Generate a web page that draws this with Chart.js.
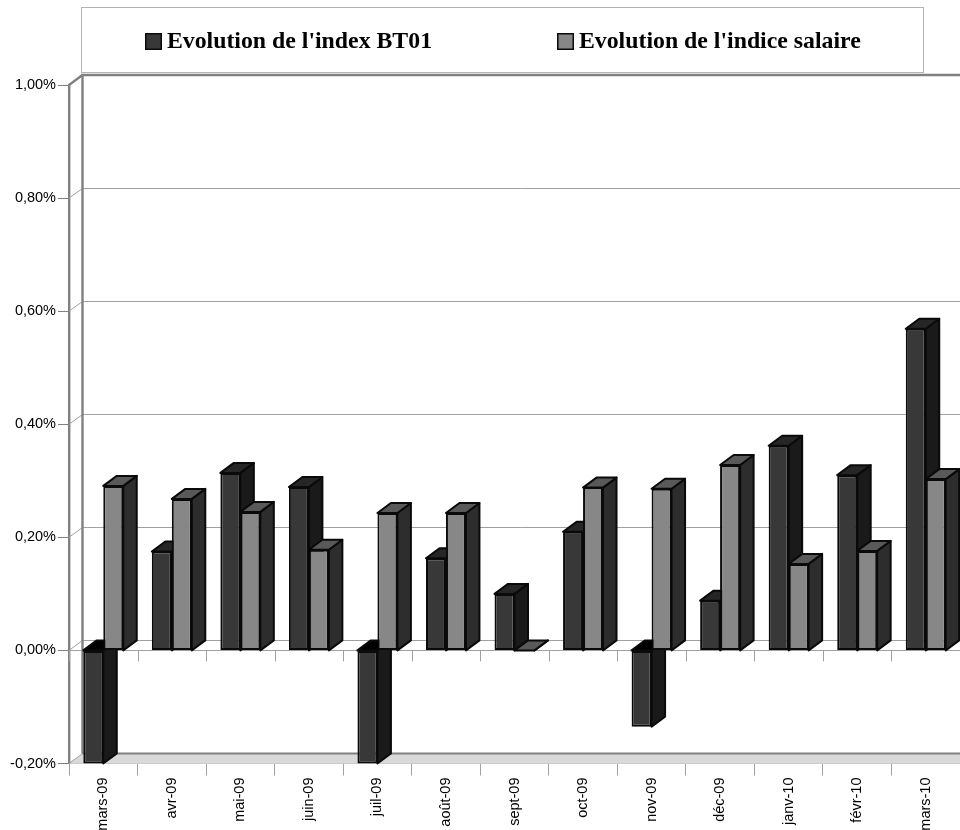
<!DOCTYPE html>
<html><head><meta charset="utf-8">
<style>html,body{margin:0;padding:0;background:#fff;overflow:hidden}#w{width:960px;height:830px;position:relative}</style>
<script src="https://cdn.jsdelivr.net/npm/chart.js@4"></script></head>
<body><div id="w"><canvas id="c" width="960" height="830"></canvas></div>
<script>
const categories = ["mars-09","avr-09","mai-09","juin-09","juil-09","août-09","sept-09","oct-09","nov-09","déc-09","janv-10","févr-10","mars-10"];
const indexBT01 = [-0.2,0.175,0.314,0.289,-0.2,0.163,0.1,0.21,-0.135,0.088,0.362,0.31,0.569];
const indiceSalaire = [0.291,0.268,0.245,0.178,0.243,0.243,0,0.288,0.286,0.328,0.153,0.176,0.303];
const seriesNames = ["Evolution de l'index BT01","Evolution de l'indice salaire"];
const yTicks = [-0.2,0,0.2,0.4,0.6,0.8,1];
const DX = 13.5, DY = -10;
const palette = [
 {front:'#383838',side:'#1a1a1a',top:'#262626',topNeg:'#000000'},
 {front:'#878787',side:'#2d2d2d',top:'#595959',topNeg:'#595959'}];

function swatch(color){
  const c=document.createElement('canvas');c.width=17;c.height=17;
  const x=c.getContext('2d');x.fillStyle='#0a0a0a';x.fillRect(0,0,17,17);x.fillStyle=color;x.fillRect(1.5,1.5,14,14);return c;
}
const poly=(ctx,pts,fill,stroke)=>{ctx.beginPath();pts.forEach((p,i)=>i?ctx.lineTo(p[0],p[1]):ctx.moveTo(p[0],p[1]));ctx.closePath();ctx.fillStyle=fill;ctx.fill();ctx.strokeStyle=stroke;ctx.lineWidth=2;ctx.lineJoin='round';ctx.stroke();};
const snap=v=>Math.floor(v)+.5;

const frame3d={
  id:'frame3d',
  afterLayout(chart){
    const l=chart.legend,p=l.options.labels.padding;
    l.left=152-p;l.right=3000;l.top=44-14.4-p;
  },
  beforeDraw(chart){
    const ctx=chart.ctx;ctx.save();
    ctx.strokeStyle='#b3b3b3';ctx.lineWidth=1;ctx.strokeRect(81.5,7.5,842,65);
    ctx.restore();
  },
  beforeDatasetsDraw(chart){
    const ctx=chart.ctx,{left,right,top,bottom}=chart.chartArea,y=chart.scales.y;
    ctx.save();
    ctx.fillStyle='#d9d9d9';ctx.beginPath();ctx.moveTo(left,bottom);ctx.lineTo(left+DX,bottom+DY);ctx.lineTo(right,bottom+DY);ctx.lineTo(right,bottom);ctx.closePath();ctx.fill();
    ctx.lineWidth=1;ctx.strokeStyle='#a0a0a0';
    yTicks.forEach(v=>{const py=y.getPixelForValue(v);
      ctx.beginPath();ctx.moveTo(left,py);ctx.lineTo(left+DX,snap(py+DY));ctx.lineTo(right,snap(py+DY));ctx.stroke();});
    ctx.strokeStyle='#808080';ctx.lineWidth=2.4;
    ctx.beginPath();ctx.moveTo(left+DX,bottom+DY);ctx.lineTo(left+DX,top+DY);ctx.lineTo(right,top+DY);ctx.stroke();
    ctx.beginPath();ctx.moveTo(left,top);ctx.lineTo(left+DX,top+DY);ctx.stroke();
    ctx.lineWidth=2;ctx.beginPath();ctx.moveTo(left+DX,bottom+DY);ctx.lineTo(right,bottom+DY);ctx.stroke();
    const zero=y.getPixelForValue(0);
    ctx.lineWidth=1;ctx.strokeStyle='#a0a0a0';
    ctx.beginPath();ctx.moveTo(left,snap(zero));ctx.lineTo(right,snap(zero));ctx.stroke();
    for(let i=0;i<=categories.length;i++){
      const px=Math.round(left+i*(right-left)/categories.length);
      ctx.beginPath();ctx.moveTo(px+.5,zero);ctx.lineTo(px+.5,zero+11);ctx.stroke();
    }
    ctx.restore();
  },
  beforeDatasetDraw(){return false;},
  afterDatasetsDraw(chart){
    const ctx=chart.ctx,y0=chart.scales.y.getPixelForValue(0);
    [0,1].forEach(idx=>{
      const pal=palette[idx],meta=chart.getDatasetMeta(idx);
      ctx.save();
      meta.data.forEach(b=>{
        const {x,y,width}=b.getProps(['x','y','width'],true);
        const l=x-width/2,r=x+width/2,t=Math.min(y,y0),bt=Math.max(y,y0),neg=y>y0;
        poly(ctx,[[r,t],[r+DX,t+DY],[r+DX,bt+DY],[r,bt]],pal.side,'#0a0a0a');
        poly(ctx,[[l,t],[l+DX,t+DY],[r+DX,t+DY],[r,t]],neg?pal.topNeg:pal.top,'#0a0a0a');
      });
      ctx.restore();
      meta.controller.draw();
    });
  }
};

new Chart(document.getElementById('c'),{
  type:'bar',
  data:{labels:categories,datasets:[
    {label:seriesNames[0],data:indexBT01,backgroundColor:palette[0].front,borderColor:'#0a0a0a',borderWidth:2,borderSkipped:false},
    {label:seriesNames[1],data:indiceSalaire,backgroundColor:palette[1].front,borderColor:'#0a0a0a',borderWidth:2,borderSkipped:false}
  ]},
  options:{
    responsive:false,animation:false,
    layout:{autoPadding:false,padding:{top:25,left:0,right:0,bottom:0}},
    categoryPercentage:0.583,barPercentage:1,
    plugins:{
      tooltip:{enabled:false},
      legend:{display:true,position:'top',align:'start',maxHeight:60,
        labels:{padding:132,usePointStyle:true,pointStyleWidth:3,boxHeight:16,color:'#000',
          font:{family:'"Liberation Serif"',size:23.8,weight:'bold'},
          generateLabels(ch){return Chart.defaults.plugins.legend.labels.generateLabels(ch).map((it,i)=>Object.assign(it,{pointStyle:swatch(palette[i].front)}));}
        }}
    },
    scales:{
      x:{type:'category',
        afterFit(s){s.height=66.5;},
        grid:{drawOnChartArea:false,offset:true,tickLength:12,color:'#a0a0a0',tickColor:'#a0a0a0'},
        border:{color:'#bfbfbf',width:1},
        ticks:{autoSkip:false,maxRotation:90,minRotation:90,padding:2,color:'#000',font:{family:'"Liberation Sans"',size:14.5}}},
      y:{type:'linear',min:-0.2,max:1,
        afterFit(s){s.width=69;},
        afterBuildTicks(s){s.ticks=yTicks.map(v=>({value:v}));},
        grid:{drawOnChartArea:false,tickLength:11,tickColor:'#808080'},
        border:{color:'#808080',width:2.4},
        ticks:{padding:2,color:'#000',font:{family:'"Liberation Sans"',size:14.5},
          callback(v){return v.toFixed(2).replace('.',',')+'%';}}}
    }
  },
  plugins:[frame3d]
});
</script></body></html>
